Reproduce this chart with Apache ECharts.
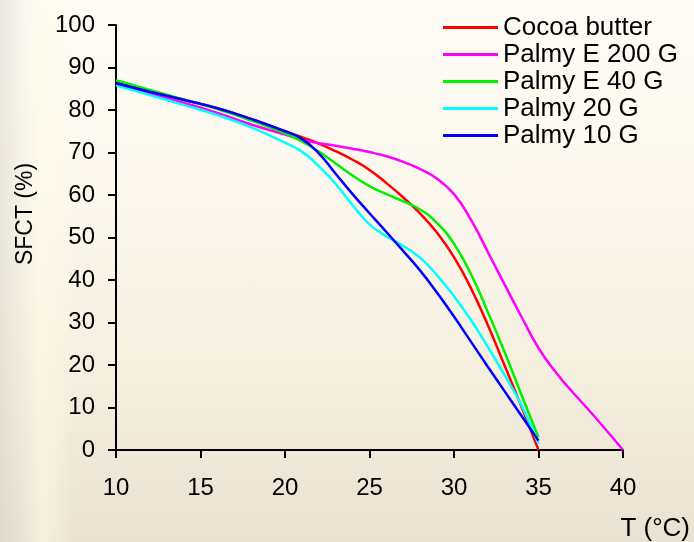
<!DOCTYPE html>
<html>
<head>
<meta charset="utf-8">
<script src="https://cdn.jsdelivr.net/npm/echarts@6/dist/echarts.min.js"></script>
<style>
html, body { margin: 0; padding: 0; }
#chart {
  width: 694px; height: 542px;
  background:
    linear-gradient(to right, rgba(215,210,200,0.5) 0px, rgba(230,225,215,0.2) 22px, rgba(255,252,232,0.55) 40px, rgba(255,250,230,0.3) 60px, rgba(255,250,230,0) 75px),
    linear-gradient(to bottom, #fefcf6 0%, #fcf8ee 35%, #f6f0e1 65%, #e9e1d1 100%);
}
</style>
</head>
<body>
<div id="chart"></div>
<script>
const temps = [10, 12, 14, 16, 18, 20, 21, 22, 23, 24, 25, 26, 27, 28, 29, 30, 31, 32, 33, 34, 35, 36, 37, 38, 39, 40];
const seriesNames = ['Cocoa butter', 'Palmy E 200 G', 'Palmy E 40 G', 'Palmy 20 G', 'Palmy 10 G'];
const cocoaButter = [86.6, 84.4, 82.4, 80.4, 77.9, 75.0, 73.6, 72.1, 70.3, 68.3, 65.9, 62.8, 59.4, 55.6, 51.1, 45.4, 38.1, 29.4, 19.8, 10.1, 0];
const palmyE200G = [86.1, 83.9, 81.7, 79.3, 76.6, 74.2, 73.0, 72.2, 71.6, 70.9, 70.1, 69.1, 67.8, 66.1, 63.8, 60.2, 54.2, 46.6, 38.9, 31.3, 24.0, 18.4, 13.7, 9.3, 4.7, 0];
const palmyE40G = [87.0, 84.7, 82.5, 80.2, 77.5, 74.5, 72.6, 70.2, 67.4, 64.6, 62.1, 60.2, 58.5, 56.6, 53.4, 48.5, 41.4, 32.5, 23.0, 12.9, 3.0];
const palmy20G = [85.8, 83.5, 81.2, 78.8, 75.9, 72.3, 70.2, 66.8, 62.6, 57.6, 53.1, 50.3, 48.0, 45.2, 41.1, 36.2, 30.6, 24.3, 17.6, 10.5, 1.4];
const palmy10G = [86.3, 84.3, 82.4, 80.4, 77.9, 75.0, 73.2, 69.8, 65.0, 60.2, 55.7, 51.3, 46.8, 42.2, 37.0, 31.4, 25.5, 19.6, 13.8, 8.0, 2.2];
const seriesValues = [cocoaButter, palmyE200G, palmyE40G, palmy20G, palmy10G];
const seriesColors = ['#ff0000', '#ff00ff', '#00f000', '#00ffff', '#0000ff'];
const xTitle = 'T (°C)';
const yTitle = 'SFCT (%)';

const font = '"Liberation Sans", Arial, sans-serif';
const chart = echarts.init(document.getElementById('chart'), null, { renderer: 'canvas' });

const series = seriesNames.map((name, k) => ({
  name: name,
  type: 'line',
  smooth: true,
  showSymbol: false,
  symbol: 'none',
  lineStyle: { width: 2.5, color: seriesColors[k] },
  itemStyle: { color: seriesColors[k] },
  data: seriesValues[k].map((v, i) => [temps[i], v]),
  z: 3
}));

chart.setOption({
  backgroundColor: 'transparent',
  animation: false,
  grid: { left: 116, right: 71, top: 25, bottom: 92, containLabel: false },
  legend: {
    orient: 'vertical',
    left: 443,
    top: 14,
    padding: 0,
    itemGap: 0,
    icon: 'rect',
    itemWidth: 55,
    itemHeight: 3,
    itemTextGap: 7,
    data: seriesNames,
    textStyle: { fontSize: 26, lineHeight: 27, color: '#000', fontFamily: font }
  },
  xAxis: {
    type: 'value',
    min: 10, max: 40, interval: 5,
    axisLine: { show: true, onZero: false, lineStyle: { color: '#000', width: 2 } },
    axisTick: { show: true, inside: false, length: 8, lineStyle: { color: '#000', width: 2 } },
    axisLabel: { fontSize: 24, color: '#000', margin: 26, fontFamily: font },
    splitLine: { show: false }
  },
  yAxis: {
    type: 'value',
    min: 0, max: 100, interval: 10,
    axisLine: { show: true, onZero: false, lineStyle: { color: '#000', width: 2 } },
    axisTick: { show: true, inside: false, length: 8, lineStyle: { color: '#000', width: 2 } },
    axisLabel: { fontSize: 24, color: '#000', margin: 21, fontFamily: font },
    splitLine: { show: false }
  },
  graphic: [
    {
      type: 'text',
      x: 26, y: 214,
      rotation: Math.PI / 2,
      style: { text: yTitle, fontSize: 23, fill: '#000', fontFamily: font, align: 'center', verticalAlign: 'middle' }
    },
    {
      type: 'text',
      x: 690, y: 529,
      style: { text: xTitle, fontSize: 26, fill: '#000', fontFamily: font, align: 'right', verticalAlign: 'middle' }
    }
  ],
  series: series
});
</script>
</body>
</html>
